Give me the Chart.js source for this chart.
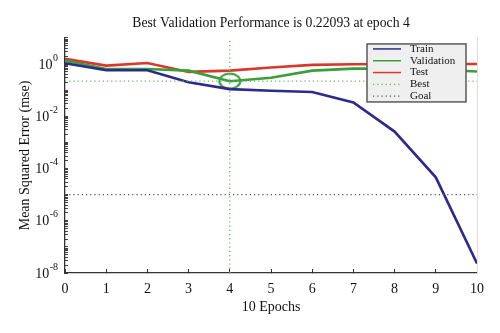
<!DOCTYPE html>
<html>
<head>
<meta charset="utf-8">
<script src="https://cdn.jsdelivr.net/npm/chart.js@4/dist/chart.umd.min.js"></script>
<style>
  html, body { margin: 0; background: #fff; }
  #wrap { width: 500px; height: 333px; }
</style>
</head>
<body>
<div id="wrap"><canvas id="perf"></canvas></div>
<script>
// training record: mse per epoch
const epochs   = [0, 1, 2, 3, 4, 5, 6, 7, 8, 9, 10];
const trainMse = [1.07, 0.58, 0.58, 0.2, 0.11, 0.095, 0.085, 0.034, 0.0026, 4.6e-5, 2.3e-8];
const validMse = [1.36, 0.65, 0.65, 0.56, 0.22093, 0.3, 0.56, 0.67, 0.67, 0.62, 0.52];
const testMse  = [1.58, 0.87, 1.1, 0.5, 0.56, 0.74, 0.93, 0.98, 1.0, 1.0, 1.0];
const bestEpoch = 4;
const bestMse = 0.22093;
const goalMse = 1e-5;
const yRange = [1e-8, 10];
const yLabelExps = [0, -2, -4, -6, -8];

const SERIF = '"Liberation Serif", "DejaVu Serif", serif';

const pts = ys => epochs.map((x, i) => ({ x, y: ys[i] }));

// elliptical marker around the best validation point
function ringMarker() {
  const c = document.createElement('canvas');
  c.width = 26; c.height = 20;
  const g = c.getContext('2d');
  g.strokeStyle = '#2f9a2f';
  g.lineWidth = 2;
  g.beginPath();
  g.ellipse(13, 10, 10.5, 7.5, 0, 0, Math.PI * 2);
  g.stroke();
  return c;
}

const dotted = (color, data, label) => ({
  label, data, borderColor: color, borderWidth: 1.3, borderDash: [1.2, 3],
  pointRadius: 0, fill: false, tension: 0
});

const datasets = [
  dotted('#555', [{ x: 0, y: goalMse }, { x: 10, y: goalMse }], 'Goal'),
  dotted('#5fb85f', [{ x: 0, y: bestMse }, { x: 10, y: bestMse }], 'Best'),
  Object.assign(dotted('#5fb85f', [{ x: bestEpoch, y: yRange[0] }, { x: bestEpoch, y: yRange[1] }], 'Best'), { noLegend: true }),
  { label: 'Train', data: pts(trainMse), borderColor: '#2c2a8c', borderWidth: 2.6, pointRadius: 0 },
  { label: 'Validation', data: pts(validMse), borderColor: '#3a9f3a', borderWidth: 2.6, pointRadius: 0 },
  { label: 'Test', data: pts(testMse), borderColor: '#d8382b', borderWidth: 2.6, pointRadius: 0 },
  { label: 'marker', data: [{ x: bestEpoch, y: bestMse }], showLine: false, noLegend: true,
    pointStyle: ringMarker(), pointRadius: 10, borderColor: '#2f9a2f' }
];

// power-of-ten labels with a raised exponent
const powerLabels = {
  id: 'powerLabels',
  afterDraw(chart) {
    const { ctx } = chart;
    const y = chart.scales.y;
    const right = y.right - 7;
    ctx.save();
    ctx.fillStyle = '#111';
    ctx.textBaseline = 'middle';
    yLabelExps.forEach(e => {
      const py = y.getPixelForValue(Math.pow(10, e));
      const exp = e === 0 ? '0' : '-' + Math.abs(e);
      ctx.font = '10px ' + SERIF;
      const ew = ctx.measureText(exp).width;
      ctx.textAlign = 'left';
      ctx.fillText(exp, right - ew, py - 6);
      ctx.font = '14px ' + SERIF;
      ctx.textAlign = 'right';
      ctx.fillText('10', right - ew - 0.5, py + 1);
    });
    ctx.restore();
  }
};

// boxed legend inside the upper right corner of the plot
const boxLegend = {
  id: 'boxLegend',
  afterDraw(chart) {
    const { ctx, chartArea } = chart;
    const order = ['Train', 'Validation', 'Test', 'Best', 'Goal'];
    const items = order.map(l => chart.data.datasets.find(d => d.label === l && !d.noLegend));
    const w = 99, h = 58;
    const x0 = chartArea.right - 11 - w, y0 = chartArea.top + 6;
    ctx.save();
    ctx.fillStyle = '#efefef';
    ctx.fillRect(x0, y0, w, h);
    ctx.strokeStyle = '#5a5a5a';
    ctx.lineWidth = 1.5;
    ctx.strokeRect(x0, y0, w, h);
    ctx.font = '11px ' + SERIF;
    ctx.textBaseline = 'middle';
    items.forEach((d, i) => {
      const y = y0 + 5 + i * 11.8;
      ctx.strokeStyle = d.borderColor;
      ctx.lineWidth = d.borderDash ? 1.3 : 1.5;
      ctx.setLineDash(d.borderDash || []);
      ctx.beginPath();
      ctx.moveTo(x0 + 6, y);
      ctx.lineTo(x0 + 34, y);
      ctx.stroke();
      ctx.setLineDash([]);
      ctx.fillStyle = '#111';
      ctx.fillText(d.label, x0 + 43, y);
    });
    ctx.restore();
  }
};

new Chart(document.getElementById('perf'), {
  type: 'line',
  data: { datasets },
  plugins: [powerLabels, boxLegend],
  options: {
    responsive: true,
    maintainAspectRatio: false,
    animation: false,
    layout: { padding: { left: 0, right: 23, top: 0, bottom: 0 } },
    plugins: {
      legend: { display: false },
      tooltip: { enabled: false },
      title: {
        display: true,
        fullSize: false,
        text: 'Best Validation Performance is ' + bestMse + ' at epoch ' + bestEpoch,
        color: '#111',
        font: { family: SERIF, size: 13.7, weight: 'normal' },
        padding: { top: 15, bottom: 6.5 }
      }
    },
    scales: {
      x: {
        type: 'linear',
        min: 0, max: 10,
        afterFit: s => { s.height = 60; },
        ticks: { stepSize: 1, color: '#111', padding: 12, font: { family: SERIF, size: 14 } },
        grid: { drawOnChartArea: false, tickLength: -4, color: '#333' },
        border: { color: '#333', width: 1.3 },
        title: {
          display: true, text: '10 Epochs', color: '#111',
          font: { family: SERIF, size: 14 }, padding: { bottom: 17.6 }
        }
      },
      y: {
        type: 'logarithmic',
        min: yRange[0], max: yRange[1],
        afterFit: s => { s.width = 65; },
        afterBuildTicks: s => {
          const t = [];
          for (let e = -8; e <= 0; e++) {
            for (let k = 1; k <= 9; k++) t.push({ value: k * Math.pow(10, e) });
          }
          t.push({ value: 10 });
          s.ticks = t;
        },
        ticks: { display: false, autoSkip: false },
        grid: { drawOnChartArea: false, tickLength: -3, color: '#444' },
        border: { color: '#333', width: 1.3 },
        title: {
          display: true, text: 'Mean Squared Error (mse)', color: '#111',
          font: { family: SERIF, size: 14 }, padding: { top: 16.6 }
        }
      },
      y2: {
        type: 'linear',
        position: 'right',
        afterFit: s => { s.width = 0; },
        ticks: { display: false },
        grid: { drawOnChartArea: false, drawTicks: false },
        border: { color: '#dedede', width: 1 }
      }
    }
  }
});
</script>
</body>
</html>
